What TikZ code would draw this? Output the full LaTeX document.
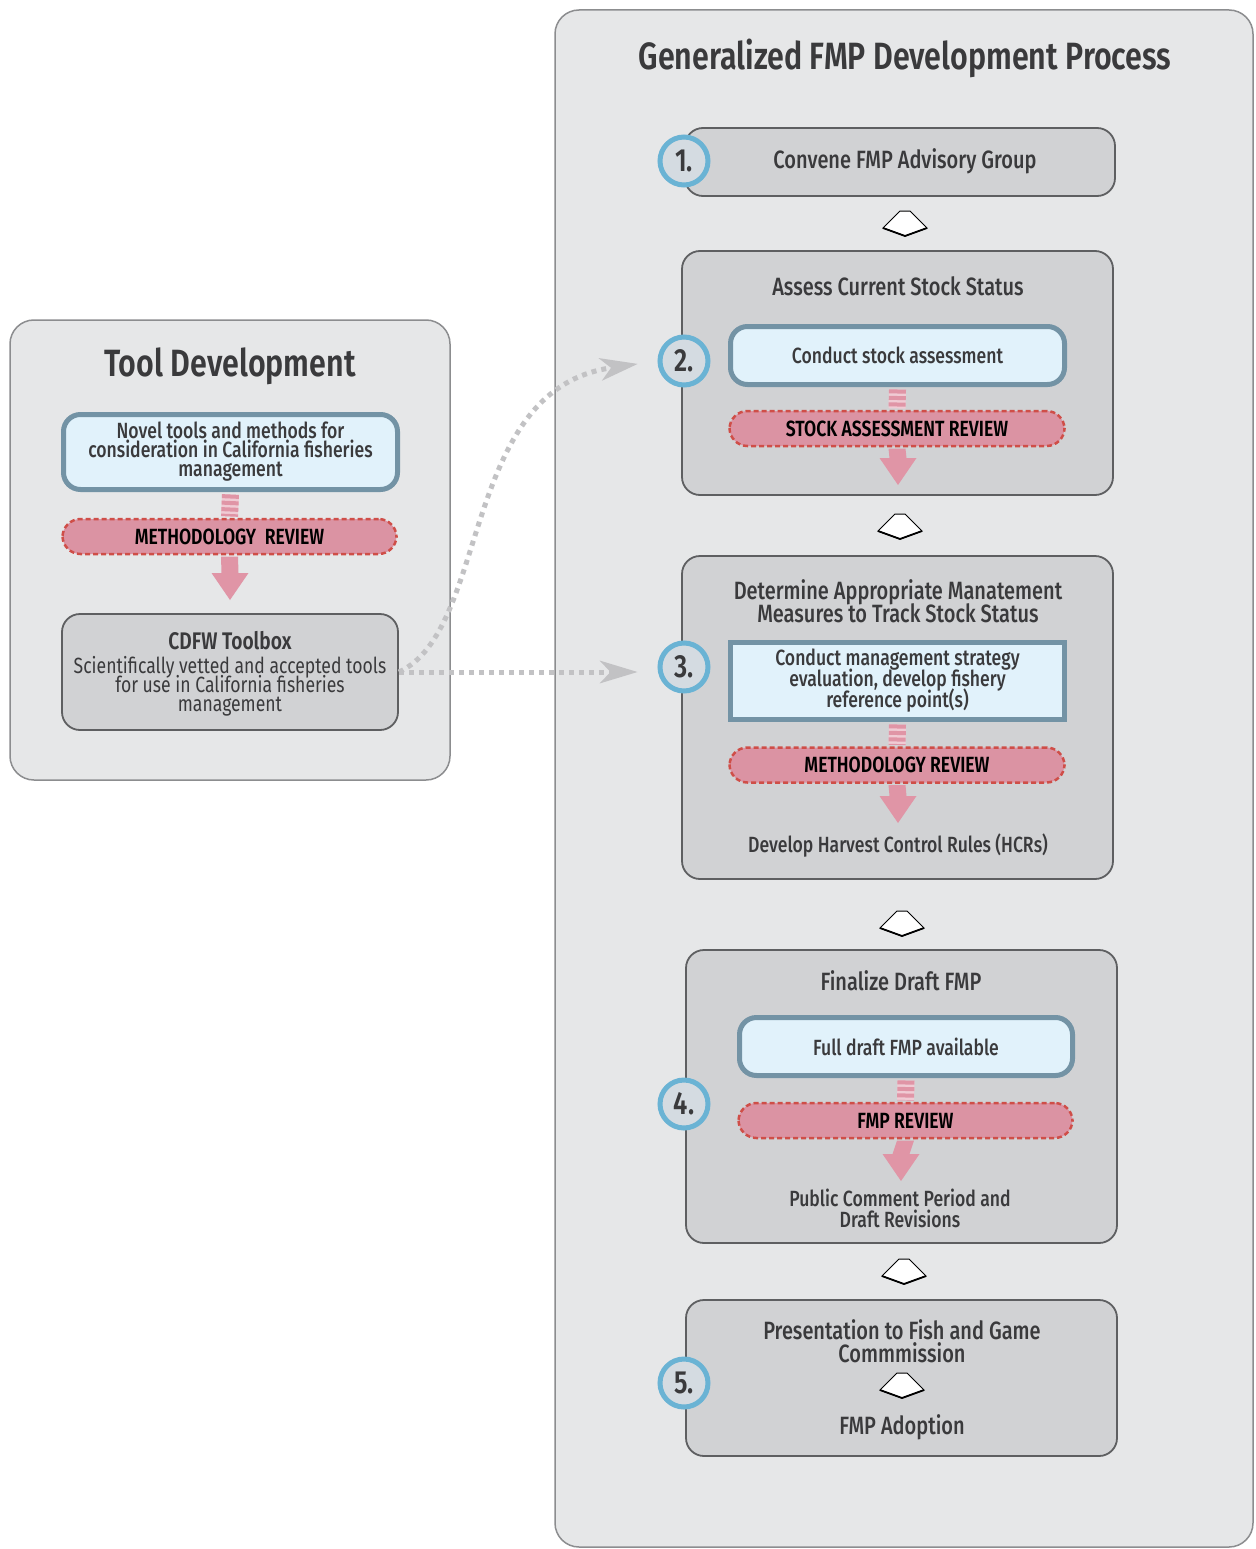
\documentclass[tikz,border=0pt]{standalone}
\usepackage{fontspec}
\setmainfont{Fira Sans}[UprightFont=* Medium, BoldFont=* SemiBold, FakeStretch=0.8]
\newfontfamily\regfont{Fira Sans}[FakeStretch=0.8]
\usetikzlibrary{calc,arrows.meta}
\definecolor{panelbg}{HTML}{E6E7E8}
\definecolor{panelln}{HTML}{8C8D8F}
\definecolor{stepbg}{HTML}{D1D2D4}
\definecolor{stepln}{HTML}{5E5F61}
\definecolor{circbg}{HTML}{D4DBE1}
\definecolor{circln}{HTML}{6AB3D4}
\definecolor{bluebg}{HTML}{E1F2FB}
\definecolor{blueln}{HTML}{7393A5}
\definecolor{revbg}{HTML}{DB93A3}
\definecolor{revln}{HTML}{CF4E48}
\definecolor{pinkc}{HTML}{E095A6}
\definecolor{pinklt}{HTML}{F0CBD4}
\definecolor{dotc}{HTML}{C2C2C4}
\definecolor{txtc}{HTML}{3A3A3C}
\newcommand\tightlines{\lineskiplimit=-100pt\lineskip=0pt\relax}
\tikzset{
  panel/.style={fill=panelbg, draw=panelln, line width=1.5pt, rounded corners=24pt},
  stepbox/.style={rectangle, fill=stepbg, draw=stepln, line width=1.8pt, rounded corners=18pt, inner sep=0pt},
  bluebox/.style={rectangle, fill=bluebg, draw=blueln, line width=5pt, rounded corners=17pt, inner sep=0pt, align=center, text=txtc, font=\tightlines\fontsize{22}{21}\selectfont},
  revbox/.style={rectangle, fill=revbg, draw=revln, line width=2.5pt, dash pattern=on 5pt off 3pt, rounded corners=18pt, inner sep=0pt, minimum height=35pt, text=black, font=\bfseries\fontsize{22}{24}\selectfont},
  numc/.style={circle, fill=circbg, draw=circln, line width=5pt, minimum size=48pt, inner sep=0pt, text=txtc, font=\bfseries\fontsize{32}{34}\selectfont},
  lbl/.style={inner sep=0pt, align=center, text=txtc},
  stripes/.style={line width=17pt, draw=pinkc, dash pattern=on 4pt off 2.5pt},
  stripebase/.style={line width=17pt, draw=pinklt},
  dotconn/.style={draw=dotc, line width=5pt, dash pattern=on 5pt off 5pt, shorten >=20pt, -{Stealth[length=38pt, width=23pt, inset=11pt, fill=dotc, line width=0pt]}},
  housearrow/.pic={
    \draw[fill=white, line width=1pt, line join=miter] (-5pt,13pt) -- (5pt,13pt) -- (22pt,-4pt) -- (0pt,-12pt) -- (-22pt,-4pt) -- cycle;
    \draw[line width=1.8pt] (22pt,-4pt) -- (0pt,-12pt) -- (-22pt,-4pt);
  }
}
\newcommand\pinkarr[2]{%
  \fill[pinkc] ($(#1.south)+(-8.5,1.3)$) -- ($(#2)+(-8.5,-27)$) -- ($(#2)+(-18.5,-27)$) -- (#2) -- ($(#2)+(18.5,-27)$) -- ($(#2)+(8.5,-27)$) -- ($(#1.south)+(8.5,1.3)$) -- cycle;}
\newcommand\stripe[2]{%
  \draw[stripebase] ($(#1.south)+(0,2.5)$) -- ($(#2.north)+(0,-1.3)$);
  \draw[stripes] ($(#1.south)+(0,2.5)$) -- ($(#2.north)+(0,-1.3)$);}
\begin{document}
\begin{tikzpicture}[x=1pt,y=-1pt]
\useasboundingbox (0,0) rectangle (1255,1549);
\fill[white] (0,0) rectangle (1255,1549);

% panels
\draw[panel] (10,320) rectangle (450,780);
\draw[panel] (555,10) rectangle (1253,1547);

% titles
\node[lbl, font=\bfseries\fontsize{38}{40}\selectfont] (ttool) at (230,366) {Tool Development};
\node[lbl, font=\bfseries\fontsize{38}{40}\selectfont] (tproc) at (905,58) {Generalized FMP Development Process};

% ---------- left panel ----------
\node[bluebox, minimum width=334pt, minimum height=75pt, font=\tightlines\fontsize{22}{19}\selectfont] (bl) at (230.5,452) {Novel tools and methods for\\consideration in California fisheries\\management};
\node[revbox, minimum width=334pt] (rl) at (229.5,536.5) {METHODOLOGY\ \ REVIEW};
\node[stepbox, minimum width=336pt, minimum height=116pt] (tb) at (230,672) {};
\node[lbl, font=\bfseries\fontsize{24}{26}\selectfont] (tbt) at (230,641) {CDFW Toolbox};
\node[lbl, font=\tightlines\regfont\fontsize{22}{19}\selectfont] (tbd) at (230,686) {Scientifically vetted and accepted tools\\for use in California fisheries\\management};
\coordinate (tl) at (230,600);
\stripe{bl}{rl}
\pinkarr{rl}{tl}

% ---------- step 1 ----------
\node[stepbox, minimum width=430pt, minimum height=68pt] (s1) at (900,162) {};
\node[lbl, font=\fontsize{25}{27}\selectfont] (s1t) at (905,161) {Convene FMP Advisory Group};
\node[numc] (c1) at (684,161) {1.};

% ---------- step 2 ----------
\node[stepbox, minimum width=431pt, minimum height=244pt] (s2) at (897.5,373) {};
\node[lbl, font=\fontsize{25}{27}\selectfont] (s2t) at (898,286) {Assess Current Stock Status};
\node[bluebox, minimum width=334pt, minimum height=58pt] (b2) at (897.5,355.5) {Conduct stock assessment};
\node[revbox, minimum width=335pt] (r2) at (897,428.5) {STOCK ASSESSMENT REVIEW};
\coordinate (t2) at (898,485);
\stripe{b2}{r2}
\pinkarr{r2}{t2}
\node[numc] (c2) at (684,361) {2.};

% ---------- step 3 ----------
\node[stepbox, minimum width=431pt, minimum height=323pt] (s3) at (897.5,717.5) {};
\node[lbl, font=\tightlines\fontsize{25}{22.5}\selectfont] (s3t) at (898,601) {Determine Appropriate Manatement\\Measures to Track Stock Status};
\node[bluebox, rounded corners=0pt, minimum width=334pt, minimum height=77pt] (b3) at (897.5,681) {Conduct management strategy\\evaluation, develop fishery\\reference point(s)};
\node[revbox, minimum width=335pt] (r3) at (897,765) {METHODOLOGY REVIEW};
\coordinate (t3) at (898,823);
\stripe{b3}{r3}
\pinkarr{r3}{t3}
\node[lbl, font=\fontsize{22}{24}\selectfont] (s3b) at (898,846) {Develop Harvest Control Rules (HCRs)};
\node[numc] (c3) at (684,667) {3.};

% ---------- step 4 ----------
\node[stepbox, minimum width=431pt, minimum height=293pt] (s4) at (901.5,1096.5) {};
\node[lbl, font=\fontsize{25}{27}\selectfont] (s4t) at (901,981) {Finalize Draft FMP};
\node[bluebox, minimum width=333pt, minimum height=58pt] (b4) at (906,1046.5) {Full draft FMP available};
\node[revbox, minimum width=334pt] (r4) at (905.5,1120.5) {FMP REVIEW};
\coordinate (t4) at (901,1181);
\stripe{b4}{r4}
\pinkarr{r4}{t4}
\node[lbl, font=\tightlines\fontsize{22}{21}\selectfont] (s4b) at (900,1208.5) {Public Comment Period and\\Draft Revisions};
\node[numc] (c4) at (684,1104) {4.};

% ---------- step 5 ----------
\node[stepbox, minimum width=431pt, minimum height=156pt] (s5) at (901.5,1378) {};
\node[lbl, font=\tightlines\fontsize{25}{23}\selectfont] (s5t) at (902,1341.5) {Presentation to Fish and Game\\Commmission};
\node[lbl, font=\fontsize{25}{27}\selectfont] (s5b) at (902,1427) {FMP Adoption};
\node[numc] (c5) at (684,1383) {5.};

% white step arrows
\pic at (905,224) {housearrow};
\pic at (900,527) {housearrow};
\pic at (902,924) {housearrow};
\pic at (904,1272) {housearrow};
\pic at (902,1386) {housearrow};

% dotted connectors
\draw[dotconn] (tb.east) -- (tb.east -| c3.west);
\draw[dotconn] (tb.east) .. controls (490,630) and (460,390) .. (c2.west);
\end{tikzpicture}
\end{document}
